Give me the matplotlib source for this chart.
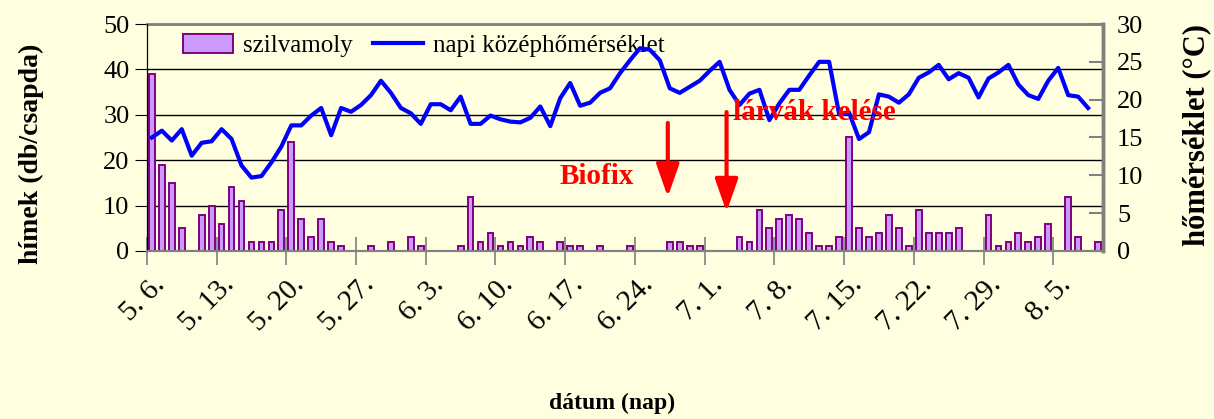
import pandas as pd
import matplotlib.pyplot as plt
from matplotlib.patches import Patch
from matplotlib.lines import Line2D

plt.rcParams['font.family'] = ['Liberation Serif', 'DejaVu Serif']

# napok: 5.6. - 8.10.
napok = pd.date_range('2007-05-06', periods=96)
# szilvamoly fogas (db/csapda)
fogas = [39, 19, 15, 5, 0, 8, 10, 6, 14, 11, 2, 2, 2, 9, 24, 7, 3, 7, 2, 1,
         0, 0, 1, 0, 2, 0, 3, 1, 0, 0, 0, 1, 12, 2, 4, 1, 2, 1, 3, 2,
         0, 2, 1, 1, 0, 1, 0, 0, 1, 0, 0, 0, 2, 2, 1, 1, 0, 0, 0, 3,
         2, 9, 5, 7, 8, 7, 4, 1, 1, 3, 25, 5, 3, 4, 8, 5, 1, 9, 4, 4,
         4, 5, 0, 0, 8, 1, 2, 4, 2, 3, 6, 0, 12, 3, 0, 2]
# napi kozephomerseklet (C)
homerseklet = [15.0, 15.9, 14.6, 16.1, 12.6, 14.3, 14.5, 16.1, 14.8, 11.3,
               9.7, 9.9, 11.7, 13.8, 16.6, 16.6, 17.9, 18.9, 15.3, 18.9,
               18.4, 19.3, 20.6, 22.5, 20.9, 18.9, 18.2, 16.8, 19.4, 19.4,
               18.6, 20.4, 16.8, 16.8, 17.9, 17.4, 17.1, 17.0, 17.6, 19.1,
               16.5, 20.2, 22.2, 19.2, 19.6, 20.9, 21.5, 23.5, 25.2, 26.8,
               26.6, 25.2, 21.5, 20.9, 21.7, 22.5, 23.8, 25.0, 21.3, 19.3,
               20.8, 21.3, 17.3, 19.5, 21.3, 21.3, 23.2, 25.0, 25.0, 18.1,
               18.3, 14.8, 15.7, 20.7, 20.4, 19.6, 20.7, 22.9, 23.6, 24.6,
               22.7, 23.5, 22.9, 20.3, 22.8, 23.6, 24.6, 22.0, 20.6, 20.1,
               22.5, 24.2, 20.6, 20.4, 18.9]

bg = '#FFFFE0'
fig = plt.figure(figsize=(12.14, 4.19), dpi=100, facecolor=bg)
ax = fig.add_axes([0.121, 0.401, 0.7876, 0.5417], facecolor=bg)
ax2 = ax.twinx()

# oszlopok (0 ertek nem rajzolodik)
xb = [i for i, v in enumerate(fogas) if v > 0]
yb = [v for v in fogas if v > 0]
ax.bar(xb, yb, width=0.58, color='#CC99FF', edgecolor='#800080', linewidth=1.4, zorder=3)

ax2.plot(range(len(homerseklet)), homerseklet, color='#0000FF', lw=3, zorder=4)

ax.set_xlim(-0.5, len(napok) - 0.5)
ax.set_ylim(0, 50)
ax2.set_ylim(0, 30)
ax.set_yticks(range(0, 51, 10))
ax2.set_yticks(range(0, 31, 5))
ax.yaxis.grid(True, color='black', lw=1)
ax.set_axisbelow(True)

# x tengely: osztasok a kategoriak kozott, feliratok 7 naponta
ax.set_xticks([k - 0.5 for k in range(0, len(napok), 7)])
ax.set_xticklabels([])
ax.set_xticks(list(range(0, len(napok), 7)), minor=True)
ax.set_xticklabels([f'{d.month}. {d.day}.' for d in napok[::7]], minor=True,
                   rotation=45, ha='right', va='top', rotation_mode='anchor', fontsize=21)
ax.tick_params(axis='x', which='major', direction='inout', length=20, color='#808080', width=1.2)
ax.tick_params(axis='x', which='minor', length=0, pad=15)
ax.tick_params(axis='y', direction='out', length=9, labelsize=19, color='black')
ax2.tick_params(axis='y', direction='in', length=10, labelsize=19, color='#808080', width=1.5, pad=10)

for a in (ax, ax2):
    a.spines['left'].set_color('black')
    a.spines['bottom'].set_color('#808080')
    a.spines['bottom'].set_linewidth(1.5)
    a.spines['right'].set_color('#808080')
    a.spines['right'].set_linewidth(2.5)
    a.spines['top'].set_color('#808080')
    a.spines['top'].set_linewidth(2)
ax2.spines['top'].set_visible(False)

fig.text(0.026, 0.632, 'hímek (db/csapda)', rotation=90, ha='center', va='center',
         fontsize=20, fontweight='bold')
fig.text(0.986, 0.677, 'hőmérséklet (°C)', rotation=90, ha='center', va='center',
         fontsize=22, fontweight='bold')
fig.text(0.504, 0.038, 'dátum (nap)', ha='center', va='center', fontsize=17, fontweight='bold')

# Biofix, larvak kelese
ax.annotate('', xy=(51.8, 11.9), xytext=(51.8, 28.2),
            arrowprops=dict(arrowstyle='-|>,head_width=0.35,head_length=1.0', mutation_scale=20,
                            color='red', lw=3, shrinkA=0, shrinkB=0), zorder=6)
ax.annotate('', xy=(57.7, 8.6), xytext=(57.7, 30.6),
            arrowprops=dict(arrowstyle='-|>,head_width=0.35,head_length=1.0', mutation_scale=20,
                            color='red', lw=3, shrinkA=0, shrinkB=0), zorder=6)
ax2.text(44.7, 16.3 * 0.6, 'Biofix', color='red', fontsize=21, fontweight='bold',
         ha='center', va='center', zorder=7)
ax2.text(66.5, 30.4 * 0.6, 'lárvák kelése', color='red', fontsize=21, fontweight='bold',
         ha='center', va='center', zorder=7)

# jelmagyarazat az also tengelyen: eltakarja a felso vonalat, de a gorbe folotte fut
handles = [Patch(facecolor='#CC99FF', edgecolor='#800080', linewidth=1.4),
           Line2D([], [], color='#0000FF', lw=3)]
leg = ax.legend(handles, ['szilvamoly', 'napi középhőmérséklet'], ncol=2,
                loc='center left', bbox_to_anchor=(0.030, 0.905), fontsize=18,
                frameon=True, facecolor=bg, edgecolor='none', framealpha=1,
                handlelength=2.0, handleheight=0.8, columnspacing=0.8, handletextpad=0.4,
                borderpad=0.3, borderaxespad=0)
leg.set_zorder(10)

fig.savefig('out.png', dpi=100, facecolor=bg)
